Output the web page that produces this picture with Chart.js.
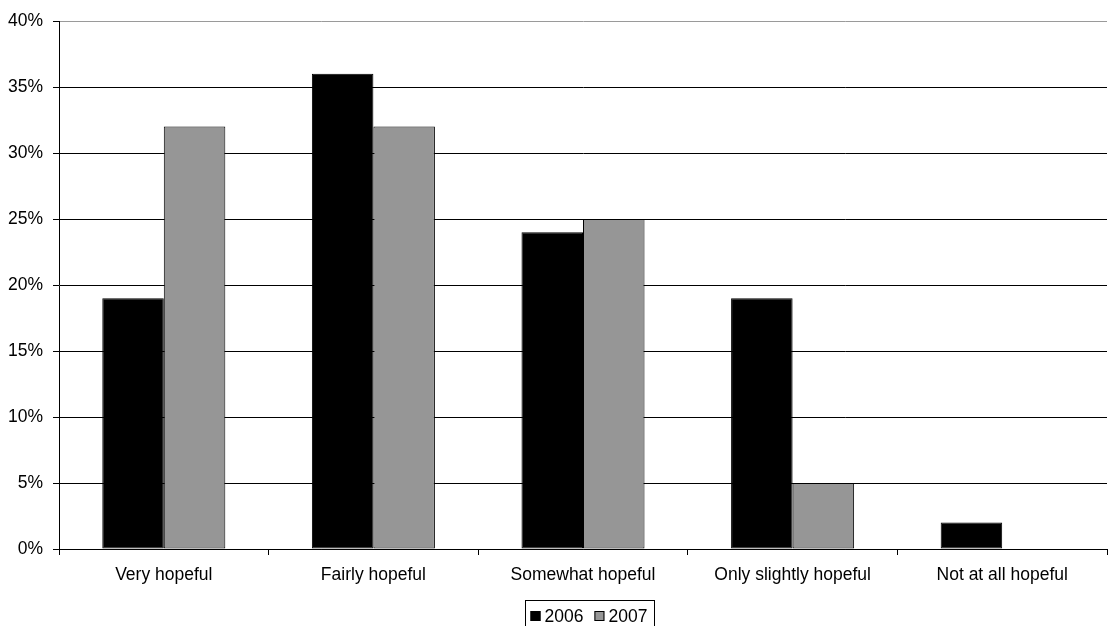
<!DOCTYPE html>
<html>
<head>
<meta charset="utf-8">
<style>
  html, body { margin: 0; padding: 0; background: #fff; }
  #wrap { width: 1108px; height: 626px; }
</style>
<script src="https://cdn.jsdelivr.net/npm/chart.js@4/dist/chart.umd.min.js"></script>
</head>
<body>
<div id="wrap"><canvas id="c" width="1108" height="626"></canvas></div>
<script>
const categories = ['Very hopeful', 'Fairly hopeful', 'Somewhat hopeful', 'Only slightly hopeful', 'Not at all hopeful'];
const seriesNames = ['2006', '2007'];
const values2006 = [19, 36, 24, 19, 2];
const values2007 = [32, 32, 25, 5, 0];
const yTicks = [0, 5, 10, 15, 20, 25, 30, 35, 40];

const FONT = { family: '"Liberation Sans", Arial, sans-serif', size: 17.5 };

// Framed legend drawn under the x-axis labels
const framedLegend = {
  id: 'framedLegend',
  afterDraw(chart) {
    const ctx = chart.ctx;
    const area = chart.chartArea;
    ctx.save();
    ctx.font = FONT.size + 'px ' + FONT.family;
    ctx.textBaseline = 'middle';
    const items = chart.data.datasets.map(ds => ({ label: ds.label, color: ds.backgroundColor }));
    const padL = 5, sq = 10, gapT = 4, gapItem = 11, padR = 7;
    let w = padL + padR;
    items.forEach((it, i) => {
      w += sq + gapT + ctx.measureText(it.label).width + (i < items.length - 1 ? gapItem : 0);
    });
    const cx = (area.left + area.right) / 2 + 6;
    const left = Math.round(cx - w / 2) + 0.5;
    const top = 600.5;
    ctx.strokeStyle = '#000';
    ctx.lineWidth = 1;
    ctx.strokeRect(left, top, Math.round(w), 60);
    let x = left + padL;
    const midY = 616;
    items.forEach(it => {
      ctx.fillStyle = it.color;
      ctx.fillRect(x, midY - 5, sq, sq);
      ctx.strokeStyle = '#000';
      ctx.strokeRect(x + 0.5, midY - 4.5, sq - 1, sq - 1);
      x += sq + gapT;
      ctx.fillStyle = '#000';
      ctx.fillText(it.label, x, midY + 1);
      x += ctx.measureText(it.label).width + gapItem;
    });
    ctx.restore();
  }
};

new Chart(document.getElementById('c'), {
  type: 'bar',
  data: {
    labels: categories,
    datasets: [
      { label: seriesNames[0], data: values2006, backgroundColor: '#000000', borderColor: '#000000', borderWidth: 1, borderSkipped: false },
      { label: seriesNames[1], data: values2007, backgroundColor: '#969696', borderColor: '#000000', borderWidth: 1, borderSkipped: false }
    ]
  },
  options: {
    responsive: false,
    animation: false,
    layout: { padding: { top: 21, right: 1, bottom: 0, left: 0 } },
    datasets: { bar: { categoryPercentage: 0.587, barPercentage: 1.0 } },
    plugins: {
      legend: { display: false },
      tooltip: { enabled: false }
    },
    scales: {
      x: {
        afterFit(scale) { scale.height = 77; },
        grid: { display: true, drawOnChartArea: false, drawTicks: true, tickLength: 6, color: '#000', offset: true },
        border: { display: true, color: '#000', width: 1 },
        ticks: { color: '#000', font: FONT, padding: 10, maxRotation: 0, autoSkip: false }
      },
      y: {
        min: 0,
        max: 40,
        afterFit(scale) { scale.width = 59; },
        afterBuildTicks(scale) { scale.ticks = yTicks.map(v => ({ value: v })); },
        grid: {
          color: c => (c.tick && c.tick.value === 40 ? '#9a9a9a' : '#000'),
          tickColor: '#000',
          tickLength: 6,
          lineWidth: 1
        },
        border: { display: true, color: '#000', width: 1 },
        ticks: { color: '#000', font: FONT, padding: 10, callback: v => v + '%' }
      }
    }
  },
  plugins: [framedLegend]
});
</script>
</body>
</html>
